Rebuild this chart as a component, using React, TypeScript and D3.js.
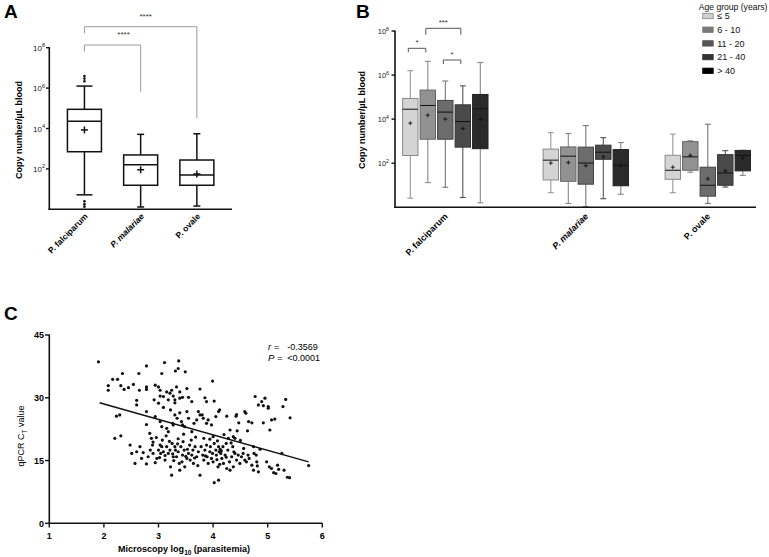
import React from "react";
import * as d3 from "d3";

// ---------- Panel A data (copies / µL) ----------
const speciesA = ["P. falciparum", "P. malariae", "P. ovale"];
const italicA = [false, true, false];
const aLow = [5.2, 1.3, 1.45];
const aQ1 = [708, 15.5, 15.5];
const aMed = [22900, 162, 50];
const aQ3 = [89000, 490, 275];
const aHigh = [1.26e6, 5130, 5500];
const aMean = [8500, 91, 56];
const aOutliersPf = [4.0e6, 2.95e6, 2.19e6, 2.5, 1.8, 1.35];
const aCompFrom = [0, 0];
const aCompTo = [1, 2];
const aCompLabel = ["****", "****"];
const aCompLegEnd = [6.6e5, 3.3e4];

// ---------- Panel B data ----------
const speciesB = ["P. falciparum", "P. malariae", "P. ovale"];
const italicB = [false, true, false];
const ageGroups = ["≤ 5", "6 - 10", "11 - 20", "21 - 40", "> 40"];
const bHigh = [
  [1.58e6, 4.17e6, 5.37e5, 3.24e5, 3.72e6],
  [2450, 2240, 5130, 1450, 870],
  [2090, 1050, 5890, 372, 389],
];
const bQ3 = [
  [87000, 209000, 70800, 44700, 132000],
  [437, 550, 537, 660, 417],
  [229, 955, 66, 245, 380],
];
const bMed = [
  [28200, 41700, 20900, 7760, 29500],
  [138, 209, 102, 316, 81],
  [48, 195, 10, 36, 224],
];
const bMean = [
  [6600, 15100, 10000, 3720, 10000],
  [102, 107, 78, 195, 78],
  [66, 229, 19.5, 45, 170],
];
const bQ1 = [
  [224, 1230, 1230, 537, 457],
  [17.4, 15.1, 11.2, 151, 9.5],
  [18.6, 48, 3.2, 10, 45],
];
const bLow = [
  [2.6, 13.2, 8.1, 2.8, 1.6],
  [4.6, 1.5, 1.07, 2.45, 3.9],
  [4.6, 39, 1.5, 8.3, 28],
];
const bCompFrom = [0, 1, 2];
const bCompTo = [1, 3, 3];
const bCompLabel = ["*", "***", "*"];

// ---------- Panel C data ----------
const cPoints: [number, number][] = [
  [1.9, 38.6], [2.08, 32.9], [2.08, 31.8], [2.16, 34.4], [2.25, 34.4], [2.31, 32.9], [2.34, 35.8],
  [2.37, 32.0], [2.45, 32.4], [2.54, 33.2], [2.64, 35.8], [2.78, 37.6], [2.78, 32.6], [2.78, 32.0],
  [2.65, 31.8], [2.6, 29.4], [2.6, 28.3], [2.94, 33.0], [3.0, 32.6], [3.03, 31.8], [3.06, 35.8],
  [3.11, 38.4], [2.92, 29.5], [3.0, 28.7], [3.03, 30.4], [3.09, 30.3], [3.15, 31.4], [3.18, 29.5],
  [3.21, 31.1], [3.24, 31.8], [3.27, 30.4], [3.3, 29.5], [3.3, 28.8], [3.31, 36.4], [3.33, 32.6],
  [3.36, 37.0], [3.37, 38.8], [3.39, 31.4], [3.39, 29.9], [3.44, 30.1], [3.49, 36.2], [3.52, 32.2],
  [3.55, 30.1], [3.61, 29.1], [3.76, 32.1], [3.85, 30.0], [3.88, 29.1], [3.99, 34.0], [4.02, 29.2],
  [2.23, 25.6], [2.29, 25.9], [2.2, 20.3], [2.31, 20.9], [2.78, 26.7], [2.78, 23.6], [2.84, 21.5],
  [2.87, 20.3], [2.94, 25.5], [3.03, 24.3], [3.06, 23.1], [3.09, 27.7], [3.15, 22.7], [3.18, 21.9],
  [3.22, 27.1], [3.26, 23.9], [3.27, 23.5], [3.3, 25.9], [3.34, 25.1], [3.39, 26.4], [3.42, 24.3],
  [3.44, 23.5], [3.48, 23.1], [3.52, 26.7], [3.55, 25.1], [3.61, 21.9], [3.65, 23.9], [3.7, 24.7],
  [3.73, 26.7], [3.76, 25.9], [3.8, 25.9], [3.82, 25.1], [3.83, 20.3], [3.88, 23.9], [3.91, 24.7],
  [3.97, 23.5], [4.0, 20.7], [4.1, 26.7], [4.12, 27.1], [4.05, 25.5], [4.25, 25.6], [4.31, 22.3],
  [4.28, 20.3], [4.37, 20.7], [4.42, 25.6], [4.43, 26.0], [4.44, 22.1], [4.4, 20.3], [4.47, 24.0],
  [4.58, 26.7], [4.6, 26.3], [4.65, 24.3], [4.63, 22.1], [4.71, 24.0], [4.77, 30.3], [4.83, 28.3],
  [4.89, 29.1], [4.95, 29.9], [4.92, 28.1], [5.01, 27.9], [5.01, 27.5], [5.04, 22.3], [5.07, 24.7],
  [5.13, 24.9], [4.92, 24.0], [5.28, 27.9], [5.33, 29.6], [5.41, 25.2],
  [2.48, 18.7], [2.51, 16.7], [2.6, 17.1], [2.66, 18.3], [2.72, 16.9], [2.78, 14.2], [2.81, 15.9],
  [2.85, 17.5], [2.89, 18.7], [2.9, 16.7], [2.94, 14.5], [2.97, 15.5], [3.0, 17.5], [3.03, 18.7],
  [3.04, 16.7], [3.06, 18.3], [3.09, 17.1], [3.12, 15.1], [3.15, 18.3], [3.18, 16.7], [3.21, 17.5],
  [3.22, 13.5], [3.24, 11.5], [3.25, 19.1], [3.27, 15.9], [3.28, 15.0], [3.3, 18.3], [3.31, 17.5],
  [3.33, 15.9], [3.35, 19.0], [3.36, 17.1], [3.38, 14.3], [3.39, 12.7], [3.41, 18.3], [3.44, 16.3],
  [3.45, 19.5], [3.47, 17.5], [3.48, 13.5], [3.52, 15.5], [3.53, 17.7], [3.55, 16.7], [3.57, 18.7],
  [3.58, 15.1], [3.61, 16.3], [3.63, 17.5], [3.64, 14.3], [3.67, 18.3], [3.7, 15.9], [3.73, 17.1],
  [3.76, 11.5], [3.78, 18.3], [3.81, 16.3], [3.83, 15.1], [3.85, 17.5], [3.88, 18.7], [3.89, 15.9],
  [3.91, 14.3], [3.94, 17.1], [3.95, 18.3], [3.97, 15.5], [3.99, 16.7], [4.0, 14.7], [4.02, 19.1],
  [4.02, 9.7], [4.05, 17.5], [4.06, 16.3], [4.09, 13.5], [4.1, 18.3], [4.1, 10.3], [4.11, 17.1],
  [4.13, 17.7], [4.14, 16.7], [4.16, 15.5], [4.18, 18.3], [4.19, 14.3], [4.22, 16.3], [4.24, 19.1],
  [4.25, 13.1], [4.27, 17.5], [4.3, 14.7], [4.31, 12.7], [4.34, 15.9], [4.36, 18.3], [4.37, 13.5],
  [4.4, 16.7], [4.43, 15.1], [4.46, 16.3], [4.49, 14.3], [4.52, 15.9], [4.55, 16.7], [4.58, 15.1],
  [4.61, 14.7], [4.64, 16.3], [4.66, 15.5], [4.71, 13.9], [4.74, 18.3], [4.75, 16.7], [4.79, 16.3],
  [4.8, 14.7], [4.81, 13.7], [4.83, 12.3], [4.74, 12.7], [4.86, 17.7], [4.98, 14.7], [5.03, 13.5],
  [5.07, 13.1], [5.11, 12.1], [5.15, 11.9], [5.18, 13.9], [5.2, 12.9], [5.26, 16.7], [5.3, 12.7],
  [5.36, 11.0], [5.4, 10.9], [5.75, 13.8], [2.57, 14.3], [2.69, 15.5],
  [2.9, 19.4], [2.96, 20.5], [3.07, 19.9], [3.14, 20.9], [3.2, 19.6], [3.36, 20.2], [3.46, 21.3],
  [3.6, 19.9], [3.68, 20.6], [3.94, 20.1], [4.08, 19.7], [4.2, 21.2], [4.33, 19.2], [4.5, 19.8],
  [3.12, 16.2], [3.26, 16.6], [3.5, 16.0], [3.66, 15.6], [3.86, 16.1], [4.07, 15.2], [4.15, 17.3],
  [4.24, 15.8], [4.38, 17.1], [4.56, 17.9], [3.02, 15.7], [3.43, 14.7], [3.72, 13.8], [4.12, 14.1],
];
const cSlope = -3.69;
const cIntercept = 35.9;
const cLineX = [1.92, 5.75];
const cStatLabels = ["r", "P"];
const cStatValues = ["-0.3569", "<0.0001"];

// ---------- styles ----------
const FONT = "'Liberation Sans', Arial, sans-serif";
const ageFills = ["#d4d4d4", "#929292", "#6c6c6c", "#4a4a4a", "#2a2a2a"];
const ageStrokes = ["#8a8a8a", "#666", "#444", "#333", "#222"];
const ageWhisk = ["#999", "#888", "#777", "#555", "#888"];
const legendFills = ["#d0d0d0", "#7a7a7a", "#555", "#333", "#000"];

function Sup({ x, y, base, exp, size }: any) {
  return (
    <text x={x} y={y} textAnchor="end" fontSize={size} fill="#222" fontFamily={FONT}>
      <tspan>{base}</tspan>
      <tspan dy={-size * 0.45} fontSize={size * 0.7}>{exp}</tspan>
    </text>
  );
}

function PanelA() {
  const x = d3.scalePoint<string>().domain(speciesA).range([49.3, 232]).padding(0.625);
  const y = d3.scaleLog().domain([1, 1e8]).range([209.3, 47.7]);
  const bw = 34;
  const caps = [16, 7, 7];
  const ticks = [1e2, 1e4, 1e6, 1e8];
  return (
    <g>
      <text x={4} y={18} fontSize={19} fontWeight="bold" fontFamily={FONT}>A</text>
      {aCompFrom.map((f, i) => {
        const x1 = x(speciesA[f])!;
        const x2 = x(speciesA[aCompTo[i]])!;
        const yb = i === 0 ? 45 : 26.7;
        const yl = yb + 6.5;
        const yr = y(aCompLegEnd[i]);
        return (
          <g key={i}>
            <path d={`M${x1},${yl}V${yb}H${x2}V${yr}`} fill="none" stroke="#9a9a9a" strokeWidth={1} />
            <text x={(x1 + x2) / 2 + (i === 0 ? 11 : 5)} y={yb - 8} textAnchor="middle" fontSize={8} fill="#333" fontFamily={FONT}>{aCompLabel[i]}</text>
          </g>
        );
      })}
      {speciesA.map((s, i) => {
        const cx = x(s)!;
        return (
          <g key={s} stroke="#111" strokeWidth={1.5} fill="none">
            <line x1={cx} x2={cx} y1={y(aHigh[i])} y2={y(aQ3[i])} />
            <line x1={cx} x2={cx} y1={y(aQ1[i])} y2={y(aLow[i])} />
            <line x1={cx - caps[i] / 2} x2={cx + caps[i] / 2} y1={y(aHigh[i])} y2={y(aHigh[i])} />
            <line x1={cx - caps[i] / 2} x2={cx + caps[i] / 2} y1={y(aLow[i])} y2={y(aLow[i])} />
            <rect x={cx - bw / 2} y={y(aQ3[i])} width={bw} height={y(aQ1[i]) - y(aQ3[i])} fill="#fff" />
            <line x1={cx - bw / 2} x2={cx + bw / 2} y1={y(aMed[i])} y2={y(aMed[i])} />
            <line x1={cx - 3.5} x2={cx + 3.5} y1={y(aMean[i])} y2={y(aMean[i])} />
            <line x1={cx} x2={cx} y1={y(aMean[i]) - 3.5} y2={y(aMean[i]) + 3.5} />
          </g>
        );
      })}
      {aOutliersPf.map((v, i) => (
        <circle key={i} cx={x(speciesA[0])} cy={y(v)} r={1.3} fill="#111" />
      ))}
      <line x1={49.3} x2={49.3} y1={47} y2={210} stroke="#111" strokeWidth={1.6} />
      <line x1={48.5} x2={232} y1={209.3} y2={209.3} stroke="#111" strokeWidth={1.6} />
      {ticks.map((t) => (
        <g key={t}>
          <line x1={46} x2={49.3} y1={y(t)} y2={y(t)} stroke="#111" strokeWidth={1.4} />
          <Sup x={45} y={y(t) + 3} base="10" exp={String(Math.round(Math.log10(t)))} size={8} />
        </g>
      ))}
      <text transform="translate(22,130) rotate(-90)" textAnchor="middle" fontSize={9} fontWeight="bold" fontFamily={FONT}>Copy number/µL blood</text>
      {speciesA.map((s, i) => (
        <text key={s} transform={`translate(${x(s)! + 4},${217}) rotate(-45)`} textAnchor="end" fontSize={8.5} fontWeight="bold" fontStyle={italicA[i] ? "italic" : "normal"} fontFamily={FONT}>{s}</text>
      ))}
    </g>
  );
}

function PanelB() {
  const gx = d3.scaleOrdinal<string, number>().domain(speciesB).range([445.3, 585.8, 707.8]);
  const ax = d3.scaleBand<string>().domain(ageGroups).range([-42.7, 42.7]).paddingInner(0.12);
  const y = d3.scaleLog().domain([1, 1e8]).range([207.3, 31]);
  const bw = ax.bandwidth();
  const ticks = [1e2, 1e4, 1e6, 1e8];
  const bYs = [48.3, 28.3, 60];
  return (
    <g>
      <text x={356} y={18} fontSize={19} fontWeight="bold" fontFamily={FONT}>B</text>
      {speciesB.map((s, si) =>
        ageGroups.map((a, ai) => {
          const cx = gx(s) + ax(a)! + bw / 2;
          return (
            <g key={s + a}>
              <g stroke={ageWhisk[ai]} strokeWidth={1.1}>
                <line x1={cx} x2={cx} y1={y(bHigh[si][ai])} y2={y(bLow[si][ai])} />
                <line x1={cx - 3} x2={cx + 3} y1={y(bHigh[si][ai])} y2={y(bHigh[si][ai])} />
                <line x1={cx - 3} x2={cx + 3} y1={y(bLow[si][ai])} y2={y(bLow[si][ai])} />
              </g>
              <rect x={cx - bw / 2} y={y(bQ3[si][ai])} width={bw} height={y(bQ1[si][ai]) - y(bQ3[si][ai])} fill={ageFills[ai]} stroke={ageStrokes[ai]} strokeWidth={1} />
              <line x1={cx - bw / 2} x2={cx + bw / 2} y1={y(bMed[si][ai])} y2={y(bMed[si][ai])} stroke="#111" strokeWidth={1} />
              <g stroke="#111" strokeWidth={0.9}>
                <line x1={cx - 2} x2={cx + 2} y1={y(bMean[si][ai])} y2={y(bMean[si][ai])} />
                <line x1={cx} x2={cx} y1={y(bMean[si][ai]) - 2} y2={y(bMean[si][ai]) + 2} />
              </g>
            </g>
          );
        })
      )}
      {bCompFrom.map((f, i) => {
        const x1 = gx(speciesB[0]) + ax(ageGroups[f])! + bw / 2 - 2;
        const x2 = gx(speciesB[0]) + ax(ageGroups[bCompTo[i]])! + bw / 2 - 2;
        const yb = bYs[i];
        const leg = i === 1 ? 6.5 : 4;
        return (
          <g key={i}>
            <path d={`M${x1},${yb + leg}V${yb}H${x2}V${yb + leg}`} fill="none" stroke="#555" strokeWidth={1} />
            <text x={(x1 + x2) / 2} y={yb - 3} textAnchor="middle" fontSize={8} fill="#333" fontFamily={FONT}>{bCompLabel[i]}</text>
          </g>
        );
      })}
      <line x1={395} x2={395} y1={30.5} y2={208} stroke="#111" strokeWidth={1.6} />
      <line x1={394.2} x2={756} y1={207.3} y2={207.3} stroke="#111" strokeWidth={1.6} />
      {ticks.map((t) => (
        <g key={t}>
          <line x1={391.5} x2={395} y1={y(t)} y2={y(t)} stroke="#111" strokeWidth={1.4} />
          <Sup x={389} y={y(t) + 3} base="10" exp={String(Math.round(Math.log10(t)))} size={7.5} />
        </g>
      ))}
      <text transform="translate(365,120) rotate(-90)" textAnchor="middle" fontSize={9} fontWeight="bold" fontFamily={FONT}>Copy number/µL blood</text>
      {speciesB.map((s, i) => (
        <text key={s} transform={`translate(${gx(s) + 3},${217}) rotate(-45)`} textAnchor="end" fontSize={9} fontWeight="bold" fontStyle={italicB[i] ? "italic" : "normal"} fontFamily={FONT}>{s}</text>
      ))}
      <text x={767.5} y={9.5} textAnchor="end" fontSize={8.6} fill="#111" fontFamily={FONT}>Age  group (years)</text>
      {ageGroups.map((a, i) => (
        <g key={a} transform={`translate(702.7,${16 + i * 13.7})`}>
          <rect x={0} y={-2.7} width={10.5} height={5.4} fill={legendFills[i]} stroke={i === 0 ? "#888" : legendFills[i]} strokeWidth={0.8} />
          <text x={14.5} y={3.3} fontSize={9} fill="#111" fontFamily={FONT}>{a}</text>
        </g>
      ))}
    </g>
  );
}

function PanelC() {
  const x = d3.scaleLinear().domain([1, 6]).range([49.3, 322.3]);
  const y = d3.scaleLinear().domain([0, 45]).range([523.3, 335]);
  const line = d3.line<number>().x((d) => x(d)).y((d) => y(cIntercept + cSlope * d));
  return (
    <g>
      <text x={4} y={320} fontSize={19} fontWeight="bold" fontFamily={FONT}>C</text>
      {cPoints.map((p, i) => (
        <circle key={i} cx={x(p[0])} cy={y(p[1])} r={1.6} fill="#111" />
      ))}
      <path d={line(cLineX)!} fill="none" stroke="#111" strokeWidth={1.5} />
      <line x1={49.3} x2={49.3} y1={334.5} y2={524} stroke="#111" strokeWidth={1.6} />
      <line x1={48.5} x2={322.3} y1={523.3} y2={523.3} stroke="#111" strokeWidth={1.6} />
      {[0, 15, 30, 45].map((t) => (
        <g key={t}>
          <line x1={45} x2={49.3} y1={y(t)} y2={y(t)} stroke="#111" strokeWidth={1.4} />
          <text x={44} y={y(t) + 3.2} textAnchor="end" fontSize={9} fontWeight="bold" fontFamily={FONT}>{t}</text>
        </g>
      ))}
      {[1, 2, 3, 4, 5, 6].map((t) => (
        <g key={t}>
          <line x1={x(t)} x2={x(t)} y1={523.3} y2={527.5} stroke="#111" strokeWidth={1.4} />
          <text x={x(t)} y={539} textAnchor="middle" fontSize={9} fontWeight="bold" fontFamily={FONT}>{t}</text>
        </g>
      ))}
      <text transform="translate(24,436) rotate(-90)" textAnchor="middle" fontSize={9} fontFamily={FONT}>
        qPCR C<tspan dy={2.5} fontSize={6.5}>T</tspan><tspan dy={-2.5}> value</tspan>
      </text>
      <text x={184} y={552} textAnchor="middle" fontSize={9} fontWeight="bold" fontFamily={FONT}>
        Microscopy log<tspan dy={2.5} fontSize={6.5}>10</tspan><tspan dy={-2.5}> (parasitemia)</tspan>
      </text>
      {cStatLabels.map((l, i) => (
        <g key={l}>
          <text x={268} y={350 + i * 10.5} fontSize={9.5} fontFamily={FONT}>
            <tspan fontStyle="italic">{l}</tspan> =
          </text>
          <text x={287.3} y={350 + i * 10.5} fontSize={9} fontFamily={FONT}>{cStatValues[i]}</text>
        </g>
      ))}
    </g>
  );
}

export default function App() {
  return (
    <svg width={769} height={557} style={{ position: "fixed", left: 0, top: 0, background: "#fff" }} fontFamily={FONT}>
      <rect width={769} height={557} fill="#fff" />
      <PanelA />
      <PanelB />
      <PanelC />
    </svg>
  );
}
